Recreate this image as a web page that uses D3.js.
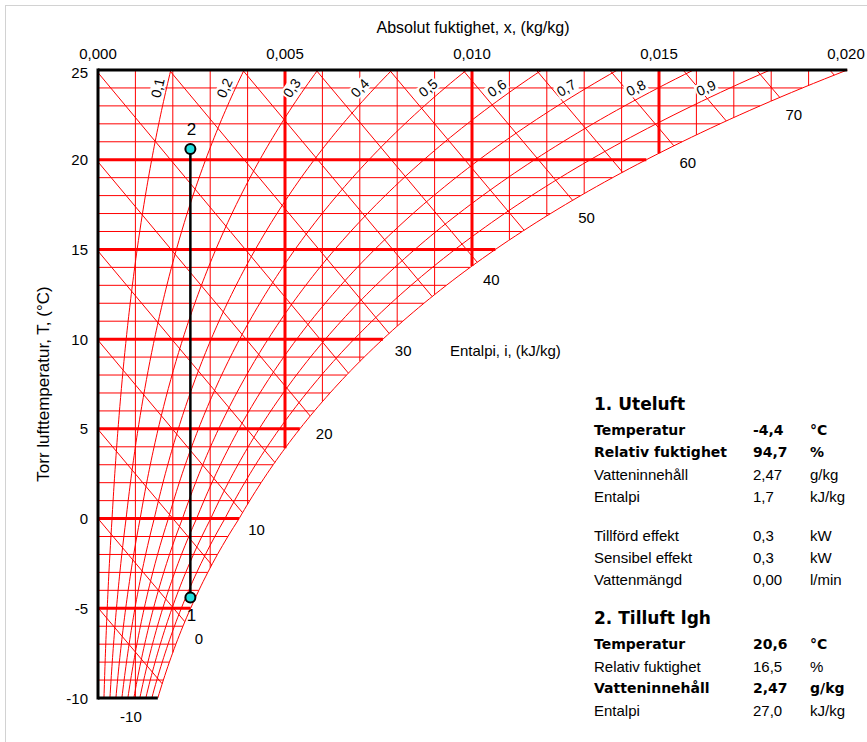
<!DOCTYPE html>
<html>
<head>
<meta charset="utf-8">
<script src="https://cdn.jsdelivr.net/npm/d3@7/dist/d3.min.js"></script>
<style>
  html, body { margin: 0; padding: 0; background: #ffffff; }
  svg { display: block; }
  text { font-family: "Liberation Sans", Arial, sans-serif; fill: #000; }
</style>
</head>
<body>
<svg id="chart" width="867" height="742"></svg>
<script>
// ---- Chart data -------------------------------------------------------
const humidityTicks = [0, 0.005, 0.010, 0.015, 0.020];
const humidityTickLabels = ["0,000", "0,005", "0,010", "0,015", "0,020"];
const tempTicks = [-10, -5, 0, 5, 10, 15, 20, 25];

// grid: isotherms every 1 °C, humidity lines every 0.001 kg/kg
const isotherms = [-10, -9, -8, -7, -6, -5, -4, -3, -2, -1, 0, 1, 2, 3, 4, 5, 6, 7, 8, 9,
                   10, 11, 12, 13, 14, 15, 16, 17, 18, 19, 20, 21, 22, 23, 24, 25];
const humidityLines = [0.001, 0.002, 0.003, 0.004, 0.005, 0.006, 0.007, 0.008, 0.009, 0.010,
                       0.011, 0.012, 0.013, 0.014, 0.015, 0.016, 0.017, 0.018, 0.019, 0.020];
const rhLevels = [0.1, 0.2, 0.3, 0.4, 0.5, 0.6, 0.7, 0.8, 0.9];
const rhLabels = ["0,1", "0,2", "0,3", "0,4", "0,5", "0,6", "0,7", "0,8", "0,9"];
const enthalpyLevels = [-10, -5, 0, 5, 10, 15, 20, 25, 30, 35, 40, 45, 50, 55, 60, 65, 70, 75];
const enthalpyLabelled = [-10, 0, 10, 20, 30, 40, 50, 60, 70];

// process states: outdoor air heated to supply air
const states = [
  { id: "1", T: -4.4, x: 0.00247 },
  { id: "2", T: 20.6, x: 0.00247 }
];

// side table
const tableBlocks = [
  { heading: "1. Uteluft", rows: [
      ["Temperatur", "-4,4", "°C", true],
      ["Relativ fuktighet", "94,7", "%", true],
      ["Vatteninnehåll", "2,47", "g/kg", false],
      ["Entalpi", "1,7", "kJ/kg", false]
  ]},
  { heading: null, rows: [
      ["Tillförd effekt", "0,3", "kW", false],
      ["Sensibel effekt", "0,3", "kW", false],
      ["Vattenmängd", "0,00", "l/min", false]
  ]},
  { heading: "2. Tilluft lgh", rows: [
      ["Temperatur", "20,6", "°C", true],
      ["Relativ fuktighet", "16,5", "%", false],
      ["Vatteninnehåll", "2,47", "g/kg", true],
      ["Entalpi", "27,0", "kJ/kg", false]
  ]}
];

// ---- Psychrometric relations -----------------------------------------
const P = 101325;
function pSat(T) {   // saturation pressure, over ice below 0 °C
  return T >= 0 ? 610.94 * Math.exp(17.625 * T / (T + 243.04))
                : 611.15 * Math.exp(22.452 * T / (272.55 + T));
}
function xAt(rh, T) { const p = rh * pSat(T); return 0.622 * p / (P - p); }
function xSat(T) { return xAt(1, T); }
function tOfH(h, x) { return (h - 2501 * x) / (1.006 + 1.86 * x); }
function tSat(xv) {     // temperature where saturation humidity equals xv
  let lo = -60, hi = 60;
  for (let i = 0; i < 60; i++) { const m = (lo + hi) / 2; if (xSat(m) < xv) lo = m; else hi = m; }
  return (lo + hi) / 2;
}

// ---- Scales ------------------------------------------------------------
const svg = d3.select("#chart");
const x = d3.scaleLinear().domain([0, 0.020]).range([98, 846]);
const y = d3.scaleLinear().domain([-10, 25]).range([698, 70]);
const T0 = -10, T1 = 25;
const red = "#ff0000";

// outer frame
svg.append("rect").attr("x", 5.5).attr("y", 5.5).attr("width", 1000).attr("height", 1000)
  .attr("fill", "none").attr("stroke", "#d2d2d2").attr("stroke-width", 1);

const grid = svg.append("g").attr("fill", "none").attr("stroke", red);

// isotherms
grid.selectAll("line.iso").data(isotherms.filter(t => t > T0 && t < T1)).join("line")
  .attr("x1", x(0)).attr("x2", t => x(xSat(t)))
  .attr("y1", t => y(t)).attr("y2", t => y(t))
  .attr("stroke-width", t => t % 5 === 0 ? 3 : 1);

// lines of constant absolute humidity
const isMajor = v => Math.abs(Math.round(v * 1000) % 5) === 0;
grid.selectAll("line.hum").data(humidityLines).join("line")
  .attr("x1", v => x(v)).attr("x2", v => x(v))
  .attr("y1", y(T1)).attr("y2", v => y(Math.max(T0, tSat(v))))
  .attr("stroke-width", v => isMajor(v) ? 3 : 1);

// relative humidity curves and saturation curve
const tSteps = d3.range(T0, T1 + 0.001, 0.25);
const rhLine = d3.line().x(d => x(d[0])).y(d => y(d[1]));
grid.selectAll("path.rh").data(rhLevels.concat([1])).join("path")
  .attr("d", r => rhLine(tSteps.map(t => [xAt(r, t), t])))
  .attr("stroke-width", 1);

// enthalpy lines
function enthalpySegment(h) {
  const xStart = Math.max(0, (h - 1.006 * T1) / (2501 + 1.86 * T1));
  const inside = xv => { const t = tOfH(h, xv); return t >= T0 && xv <= xSat(t); };
  let lo = xStart, hi = 0.03;
  for (let i = 0; i < 60; i++) { const m = (lo + hi) / 2; if (inside(m)) lo = m; else hi = m; }
  const tEnd = tOfH(h, lo);
  return { h, x0: xStart, t0: tOfH(h, xStart), x1: lo, t1: tEnd, bottom: tEnd < T0 + 0.01 };
}
const hSegs = enthalpyLevels.map(enthalpySegment);
grid.selectAll("line.h").data(hSegs).join("line")
  .attr("x1", d => x(d.x0)).attr("y1", d => y(d.t0))
  .attr("x2", d => x(d.x1)).attr("y2", d => y(d.t1))
  .attr("stroke-width", 1);

// enthalpy labels beyond the end of each line
svg.append("g").selectAll("text").data(hSegs.filter(d => enthalpyLabelled.includes(d.h))).join("text")
  .attr("x", d => d.bottom ? x(d.x1) + 32 : x(d.x1) + 14)
  .attr("y", d => d.bottom ? y(T0) + 18 : y(d.t1) + 17)
  .attr("text-anchor", "middle").attr("dominant-baseline", "central")
  .attr("font-size", 15).text(d => d.h);

// relative humidity labels along the 24 °C row, set beside each curve
const rhLabelT = 24;
const rhG = svg.append("g").selectAll("g").data(rhLevels).join("g")
  .attr("transform", r => {
    const px = x(xAt(r, rhLabelT));
    const dxdT = (x(xAt(r, rhLabelT + 0.1)) - x(xAt(r, rhLabelT - 0.1))) / 0.2;
    const dydT = (y(0) - y(1));
    const ang = Math.atan2(dydT, dxdT);       // slope angle of the curve
    const shift = 7 / Math.sin(ang) + 8 * Math.cos(ang);
    return `translate(${px - shift},${y(rhLabelT)}) rotate(${-ang * 180 / Math.PI})`;
  });
rhG.append("rect").attr("x", -11).attr("y", -7).attr("width", 22).attr("height", 14).attr("fill", "#fff");
rhG.append("text").attr("text-anchor", "middle").attr("dominant-baseline", "central")
  .attr("font-size", 14).text((r, i) => rhLabels[i]);

// chart borders
const axes = svg.append("g").attr("stroke", "#000").attr("fill", "none");
axes.append("line").attr("x1", x(0)).attr("x2", x(0)).attr("y1", y(T1) - 1.5).attr("y2", y(T0) + 1.5).attr("stroke-width", 3);
axes.append("line").attr("x1", x(0)).attr("x2", x(xSat(T1))).attr("y1", y(T1)).attr("y2", y(T1)).attr("stroke-width", 3);
axes.append("line").attr("x1", x(0)).attr("x2", x(xSat(T0))).attr("y1", y(T0)).attr("y2", y(T0)).attr("stroke-width", 3);

// tick labels
svg.append("g").selectAll("text").data(tempTicks).join("text")
  .attr("x", x(0) - 10).attr("y", t => y(t) + (t === T1 ? 2 : 0))
  .attr("text-anchor", "end").attr("dominant-baseline", "central")
  .attr("font-size", 15).text(t => t);
svg.append("g").selectAll("text").data(humidityTicks).join("text")
  .attr("x", v => x(v)).attr("y", 53)
  .attr("text-anchor", "middle").attr("dominant-baseline", "central")
  .attr("font-size", 15).text((v, i) => humidityTickLabels[i]);

// axis titles
svg.append("text").attr("x", 473).attr("y", 27).attr("text-anchor", "middle")
  .attr("dominant-baseline", "central").attr("font-size", 16).text("Absolut fuktighet, x, (kg/kg)");
svg.append("text").attr("transform", `translate(43,${(y(T0) + y(T1)) / 2}) rotate(-90)`)
  .attr("text-anchor", "middle").attr("dominant-baseline", "central")
  .attr("font-size", 17).text("Torr lufttemperatur, T, (°C)");
svg.append("text").attr("x", 450).attr("y", 350).attr("dominant-baseline", "central")
  .attr("font-size", 15).text("Entalpi, i, (kJ/kg)");

// process line and state points
svg.append("line")
  .attr("x1", x(states[0].x)).attr("y1", y(states[0].T))
  .attr("x2", x(states[1].x)).attr("y2", y(states[1].T))
  .attr("stroke", "#000").attr("stroke-width", 2.5);
svg.append("g").selectAll("circle").data(states).join("circle")
  .attr("cx", d => x(d.x)).attr("cy", d => y(d.T)).attr("r", 5)
  .attr("fill", "#22dede").attr("stroke", "#000").attr("stroke-width", 2);
svg.append("g").selectAll("text").data(states).join("text")
  .attr("x", d => x(d.x) + 1).attr("y", (d, i) => y(d.T) + (i === 0 ? 18 : -19))
  .attr("text-anchor", "middle").attr("dominant-baseline", "central")
  .attr("font-size", 17).text(d => d.id);

// side table
const colLabel = 594, colValue = 753, colUnit = 810;
let ty = 404;
const table = svg.append("g");
tableBlocks.forEach(block => {
  if (block.heading) {
    table.append("text").attr("x", colLabel).attr("y", ty).attr("dominant-baseline", "central")
      .style("font-family", "'DejaVu Sans', Verdana, sans-serif").attr("font-weight", "bold")
      .attr("font-size", 17).text(block.heading);
    ty += 26;
  }
  block.rows.forEach(row => {
    const bold = row[3];
    [[colLabel, row[0]], [colValue, row[1]], [colUnit, row[2]]].forEach(([cx, s]) => {
      table.append("text").attr("x", cx).attr("y", ty).attr("dominant-baseline", "central")
        .style("font-family", bold ? "'DejaVu Sans', Verdana, sans-serif" : "'Liberation Sans', Arial, sans-serif")
        .attr("font-weight", bold ? "bold" : "normal")
        .attr("font-size", bold ? 14 : 15).text(s);
    });
    ty += 22;
  });
  ty += 17;
});
</script>
</body>
</html>
